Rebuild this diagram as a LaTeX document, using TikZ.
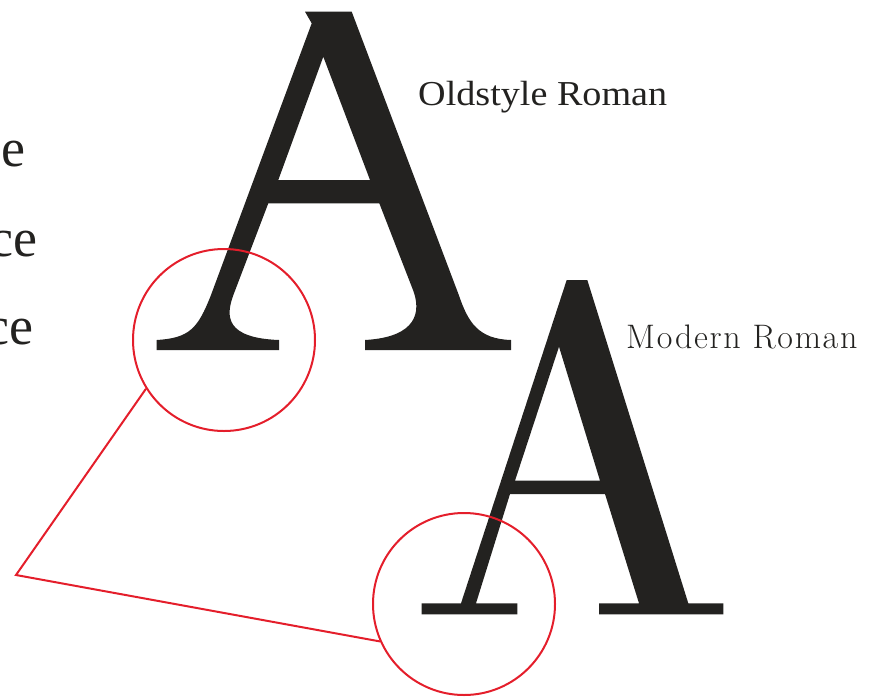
\documentclass[tikz,border=0pt]{standalone}
\usepackage{fontspec}
\newfontfamily\oldface{Liberation Serif}
\newfontfamily\modface[LetterSpace=5]{Latin Modern Roman}
\definecolor{ink}{HTML}{232220}
\definecolor{mark}{HTML}{E41E2B}
\tikzset{
  glyph/.style={fill=ink, draw=none, even odd rule},
  ring/.style={circle, draw=mark, line width=2pt, minimum size=182pt, inner sep=0pt},
  link/.style={draw=mark, line width=2pt, line join=miter},
  lbl/.style={anchor=base west, inner sep=0pt, text=ink},
  cut/.style={anchor=base east, inner sep=0pt, text=ink}
}
\begin{document}
\begin{tikzpicture}[x=1pt,y=-1pt]
\useasboundingbox (0,0) rectangle (869,696);
\clip (0,0) rectangle (869,696);
% partial words at left edge
\node[cut] (w1) at (26,166.5) {\fontsize{54}{60}\oldface e};
\node[cut] (w2) at (37.5,256.5) {\fontsize{54}{60}\oldface ce};
\node[cut] (w3) at (34,344.5) {\fontsize{54}{60}\oldface ce};
% oldstyle A
\path[glyph]
 (305,11.7) -- (351.7,11.7) -- (458.8,295)
 .. controls (468,322) and (478,339) .. (511,340)
 -- (511,350) -- (365,350) -- (365,340)
 .. controls (418,337) and (421,311) .. (413,290)
 -- (379.3,203.3) -- (268.3,203.3) -- (233,296)
 .. controls (226,316) and (225,338) .. (279,340)
 -- (279,350) -- (156.7,350) -- (156.7,340)
 .. controls (190,338) and (198,328) .. (211,295)
 -- (311.7,23.3) -- cycle
 (323.3,56.7) -- (370,180) -- (278.3,180) -- cycle;
% modern A
\path[glyph]
 (566.7,280) -- (587.3,280) -- (688.3,603.3) -- (723.3,603.3) -- (723.3,614.3)
 -- (599,614.3) -- (599,603.3) -- (639,603.3) -- (605,494) -- (510,494)
 -- (476,603.3) -- (517.3,603.3) -- (517.3,614.3) -- (421.7,614.3)
 -- (421.7,603.3) -- (461,603.3) -- cycle
 (559,346.7) -- (600,480.7) -- (515,480.7) -- cycle;
% labels
\node[lbl] (l1) at (418,105) {\fontsize{35}{40}\oldface\scalebox{1.09}[1]{Oldstyle Roman}};
\node[lbl] (l2) at (626,348) {\fontsize{34}{40}\modface Modern Roman};
% circles and connector
\node[ring] (c1) at (224,340) {};
\node[ring] (c2) at (464,604) {};
\coordinate (p) at (16,575);
\draw[link] (c1.212.3) -- (p) -- (c2.204.9);
\end{tikzpicture}
\end{document}
